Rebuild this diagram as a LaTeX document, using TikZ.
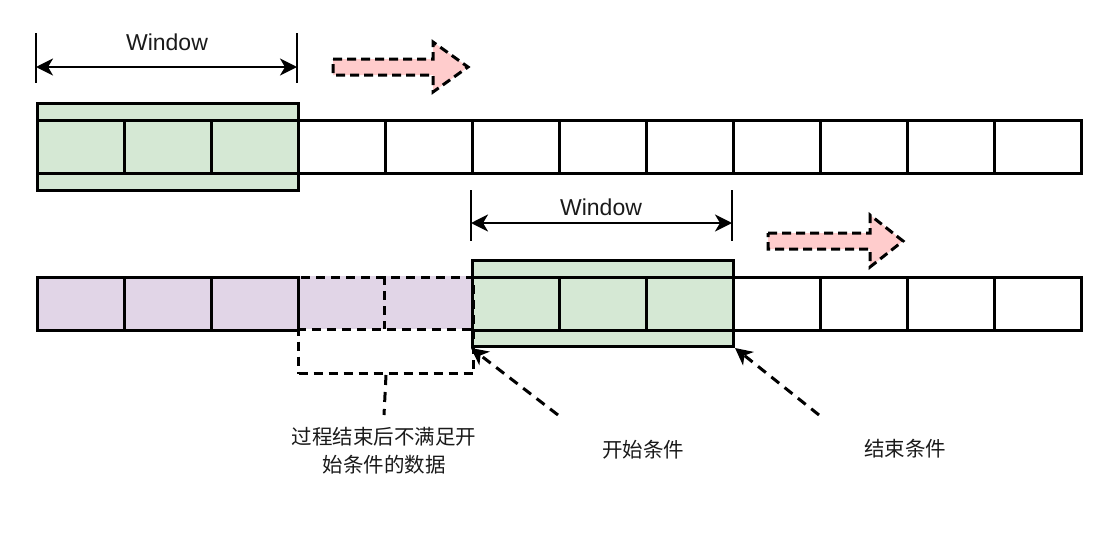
\documentclass[tikz,border=0pt]{standalone}
\usepackage{fontspec}
\setmainfont{Liberation Sans}
\newfontfamily\cjk{Noto Sans CJK SC}
\usetikzlibrary{arrows.meta}
\definecolor{gfill}{HTML}{D5E8D4}
\definecolor{pfill}{HTML}{E1D5E7}
\definecolor{rfill}{HTML}{FFCCCC}
\definecolor{txt}{HTML}{1A1A1A}
\begin{document}
\begin{tikzpicture}[x=1pt,y=-1pt,
  cell/.style={draw, line width=3pt, minimum width=87pt, minimum height=53pt, inner sep=0pt, anchor=north west},
  pcell/.style={cell, fill=pfill},
  dcell/.style={fill=pfill, minimum width=87pt, minimum height=53pt, inner sep=0pt, anchor=north west},
  dline/.style={line width=3pt, dash pattern=on 9pt off 6pt},
  winbox/.style={draw, line width=3pt, fill=gfill, minimum width=261pt, minimum height=87pt, inner sep=0pt, anchor=north west},
  tick/.style={line width=2.5pt},
  dim/.style={line width=2.5pt, {Stealth[length=17pt,width=17pt,inset=5pt]}-{Stealth[length=17pt,width=17pt,inset=5pt]}},
  winlabel/.style={font=\fontsize{23}{26}\selectfont, text=txt},
  cjklabel/.style={font=\cjk\fontsize{20.5}{28}\selectfont, text=txt, align=center},
  dasharrow/.style={line width=3pt, dash pattern=on 10pt off 7pt, -{Stealth[length=17pt,width=17pt,inset=5pt]}},
  movearrow/.style={fill=rfill, draw, line width=3pt, dash pattern=on 9pt off 5pt},
]
\useasboundingbox (0,0) rectangle (1113,536);

% ---------- top row ----------
\node[winbox] (w1) at (36,102) {};
\foreach \i in {0,...,11} {
  \node[cell] (a\i) at ({36+87*\i},119) {};
}
\coordinate (t1a) at (36,33);
\coordinate (t1b) at (36,83);
\coordinate (t1c) at (297,33);
\coordinate (t1d) at (297,83);
\coordinate (d1l) at (36,67);
\coordinate (d1r) at (297,67);
\draw[tick] (t1a) -- (t1b);
\draw[tick] (t1c) -- (t1d);
\draw[dim] (d1l) -- (d1r);
\node[winlabel] (wl1) at (167,42) {Window};

\draw[movearrow] (333,59) -- (433,59) -- (433,42) -- (468,67) -- (433,92) -- (433,75) -- (333,75) -- cycle;

% ---------- bottom row ----------
\foreach \i in {3,4} {
  \node[dcell] (b\i) at ({36+87*\i},276) {};
}
\foreach \i in {0,1,2} {
  \node[pcell] (b\i) at ({36+87*\i},276) {};
}
\node[winbox, minimum height=86pt] (w2) at (471,259) {};
\foreach \i in {5,...,11} {
  \node[cell] (b\i) at ({36+87*\i},276) {};
}
\node[draw, dline, minimum width=175pt, minimum height=96pt, inner sep=0pt, anchor=north west] (gap) at (297,276) {};
\draw[dline] (b3.north east) -- (b3.south east);
\draw[dline] (b3.south west) -- (b4.south east);

\coordinate (t2a) at (471,190);
\coordinate (t2b) at (471,241);
\coordinate (t2c) at (732,190);
\coordinate (t2d) at (732,241);
\coordinate (d2l) at (471,223);
\coordinate (d2r) at (732,223);
\draw[tick] (t2a) -- (t2b);
\draw[tick] (t2c) -- (t2d);
\draw[dim] (d2l) -- (d2r);
\node[winlabel] (wl2) at (601,207) {Window};

\draw[movearrow] (768,233) -- (870,233) -- (870,215) -- (903,241) -- (870,267) -- (870,249) -- (768,249) -- cycle;

% ---------- labels ----------
\node[cjklabel, anchor=north, inner ysep=12pt] (lab1) at (384,415) {过程结束后不满足开\\始条件的数据};
\draw[line width=3pt, dash pattern=on 10pt off 7pt] (gap.south) -- (lab1.north);

\node[cjklabel] (lab2) at (643,450) {开始条件};
\node[cjklabel] (lab3) at (905,449) {结束条件};
\coordinate (s1) at (558,415);
\coordinate (s2) at (819,415);
\draw[dasharrow] (s1) -- (w2.south west);
\draw[dasharrow] (s2) -- (w2.south east);
\end{tikzpicture}
\end{document}
